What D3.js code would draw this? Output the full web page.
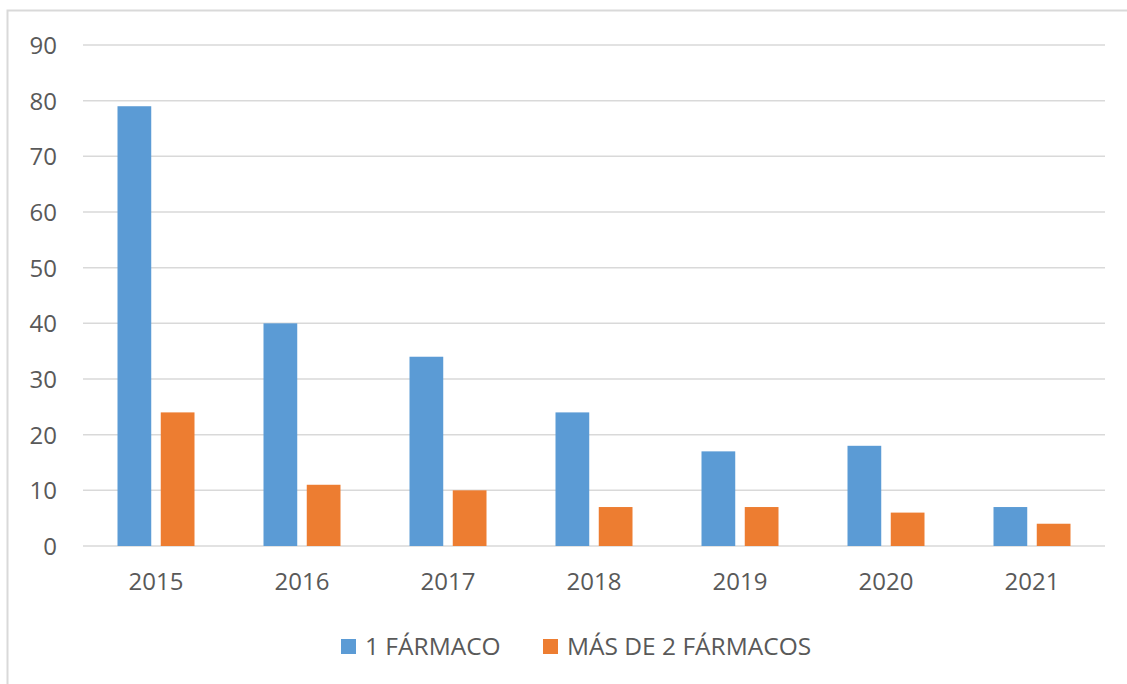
<!DOCTYPE html>
<html>
<head>
<meta charset="utf-8">
<script src="https://cdn.jsdelivr.net/npm/d3@7"></script>
<style>
html,body{margin:0;padding:0;background:#fff;}
svg{display:block;}
text{font-family:"Open Sans","Noto Sans",sans-serif;fill:#595959;}
</style>
</head>
<body>
<svg id="chart" width="1127" height="684"></svg>
<script>
const years = ["2015","2016","2017","2018","2019","2020","2021"];
const seriesNames = ["1 FÁRMACO","MÁS DE 2 FÁRMACOS"];
const unFarmaco = [79,40,34,24,17,18,7];
const masDeDos = [24,11,10,7,7,6,4];
const colors = ["#5B9BD5","#ED7D31"];
const yTicks = [0,10,20,30,40,50,60,70,80,90];

const svg = d3.select("#chart");
// outer chart border
svg.append("path").attr("d","M7.5,700 V10.5 H1140").attr("fill","none").attr("stroke","#d9d9d9").attr("stroke-width",2);

const x0 = d3.scaleBand().domain(years).range([83,1105]).paddingInner(0).paddingOuter(0);
const x1 = d3.scaleBand().domain(seriesNames).range([34.5,111.5]).paddingInner(0.22);
const y = d3.scaleLinear().domain([0,90]).range([546,45]);

// gridlines
svg.append("g").selectAll("line").data(yTicks).join("line")
  .attr("x1",83).attr("x2",1105)
  .attr("y1",d=>y(d)).attr("y2",d=>y(d))
  .attr("stroke","#d9d9d9").attr("stroke-width",1.5);

// y labels
const yAxis = d3.axisLeft(y).tickValues(yTicks).tickSize(0).tickPadding(0);
const gy = svg.append("g").attr("transform","translate(57,0)").call(yAxis);
gy.select(".domain").remove();
gy.selectAll("text").style("font-size","24px").attr("fill","#595959").attr("dy","0.35em").attr("font-family",null);

// bars
const data = years.map((yr,i)=>({year:yr, values:[unFarmaco[i], masDeDos[i]]}));
const groups = svg.append("g").selectAll("g").data(data).join("g")
  .attr("transform",d=>`translate(${x0(d.year)},0)`);
groups.selectAll("rect").data(d=>d.values.map((v,j)=>({name:seriesNames[j],v,j}))).join("rect")
  .attr("x",d=>x1(d.name)).attr("width",x1.bandwidth())
  .attr("y",d=>y(d.v)).attr("height",d=>y(0)-y(d.v))
  .attr("fill",d=>colors[d.j]);

// x labels
const xAxis = d3.axisBottom(x0).tickSize(0).tickPadding(0);
const gx = svg.append("g").attr("transform","translate(0,582)").call(xAxis);
gx.select(".domain").remove();
gx.selectAll("text").style("font-size","24px").attr("fill","#595959").attr("dy","0.35em").attr("y",0).attr("font-family",null);

// legend
const legendX = [341,543];
const lg = svg.append("g").selectAll("g").data(seriesNames).join("g")
  .attr("transform",(d,i)=>`translate(${legendX[i]},639)`);
lg.append("rect").attr("width",15).attr("height",15).attr("fill",(d,i)=>colors[i]);
lg.append("text").attr("x",24).attr("y",7.5).attr("dy","0.35em").style("font-size","24.5px").text(d=>d);
</script>
</body>
</html>
